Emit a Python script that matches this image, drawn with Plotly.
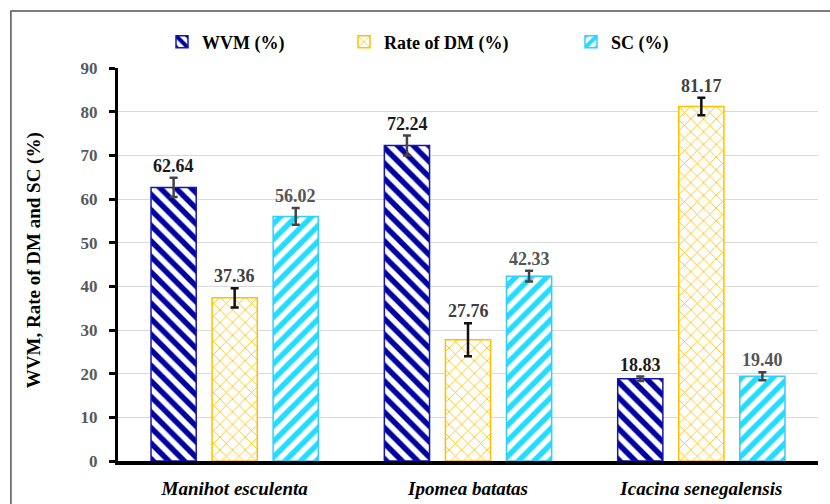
import plotly.graph_objects as go

categories = ["Manihot esculenta", "Ipomea batatas", "Icacina senegalensis"]
series_names = ["WVM (%)", "Rate of DM (%)", "SC (%)"]
wvm = [62.64, 72.24, 18.83]
dm = [37.36, 27.76, 81.17]
sc = [56.02, 42.33, 19.40]
wvm_err = [2.2, 2.3, 0.5]
dm_err = [2.2, 3.8, 2.0]
sc_err = [1.9, 1.25, 0.9]
y_ticks = [0, 10, 20, 30, 40, 50, 60, 70, 80, 90]

SERIF = "'Liberation Serif', 'Times New Roman', Times, 'DejaVu Serif', serif"

styles = [
    dict(fg="#0000A0", line="#1515B0", shape="\\", size=11, solid=0.5, err="#444444", lab="#1a1a1a"),
    dict(fg="#FFC000", line="#FFC000", shape="x", size=9, solid=0.18, err="#111111", lab="#404040"),
    dict(fg="#22DDFF", line="#33CCFF", shape="/", size=11, solid=0.5, err="#444444", lab="#555555"),
]
values = [wvm, dm, sc]
errs = [wvm_err, dm_err, sc_err]
legend_ids = ["legend", "legend2", "legend3"]

fig = go.Figure()
for i in range(3):
    s = styles[i]
    fig.add_trace(go.Bar(
        x=categories, y=values[i], name=series_names[i],
        legend=legend_ids[i], showlegend=True,
        marker=dict(color="white", line=dict(color=s["line"], width=1.5),
                    pattern=dict(shape=s["shape"], fgcolor=s["fg"], bgcolor="white",
                                 size=s["size"], solidity=s["solid"], fgopacity=1)),
        error_y=dict(type="data", array=errs[i], visible=True, color=s["err"],
                     thickness=2.5, width=4),
        hoverinfo="skip",
    ))

for i in range(3):
    for j, c in enumerate(categories):
        fig.add_annotation(
            x=c, y=values[i][j] + errs[i][j], text=f"<b>{values[i][j]:.2f}</b>",
            xref="x", yref="y", showarrow=False, yanchor="bottom",
            xshift=(i - 1) * 61, yshift=0,
            font=dict(family=SERIF, size=18, color=styles[i]["lab"]),
        )

fig.add_annotation(
    x=-0.12, y=0.511, xref="paper", yref="paper", showarrow=False,
    text="<b>WVM, Rate of DM and SC (%)</b>", textangle=-90,
    xanchor="center", yanchor="middle",
    font=dict(family=SERIF, size=19, color="black"),
)

fig.add_shape(type="rect", xref="paper", yref="paper",
              x0=-0.153, x1=1.03, y0=-0.2, y1=1.145,
              line=dict(color="#555555", width=1.5), fillcolor="rgba(0,0,0,0)", layer="below")

leg_common = dict(orientation="h", yanchor="middle", yref="container", y=1 - 42 / 504,
                  xanchor="left", xref="container",
                  font=dict(family=SERIF, size=18, color="black", weight="bold"),
                  bgcolor="rgba(0,0,0,0)", borderwidth=0)

fig.update_layout(
    width=830, height=504, showlegend=True,
    margin=dict(l=118, r=12, t=68, b=43, autoexpand=False),
    paper_bgcolor="white", plot_bgcolor="white",
    barmode="group", bargap=0.215, bargroupgap=0.26,
    legend=dict(x=162 / 830, **leg_common),
    legend2=dict(x=344 / 830, **leg_common),
    legend3=dict(x=571 / 830, **leg_common),
    xaxis=dict(
        automargin=False,
        showline=True, linecolor="black", linewidth=4,
        tickfont=dict(family=SERIF, size=19, color="black", weight="bold", style="italic"),
        ticks="", ticklabelstandoff=7, showgrid=False,
    ),
    yaxis=dict(
        automargin=False,
        range=[0, 90], tickvals=y_ticks, showline=True, linecolor="black", linewidth=3,
        ticks="outside", ticklen=6, tickwidth=2.5, tickcolor="black",
        tickfont=dict(family=SERIF, size=17, color="#595959", weight="bold"),
        ticklabelstandoff=8,
        showgrid=True, gridcolor="#d9d9d9", gridwidth=1, zeroline=False,
    ),
)

fig.write_html("out.html", config={"displayModeBar": False},
               post_script="document.body.style.margin='0';document.body.style.overflow='hidden';")
